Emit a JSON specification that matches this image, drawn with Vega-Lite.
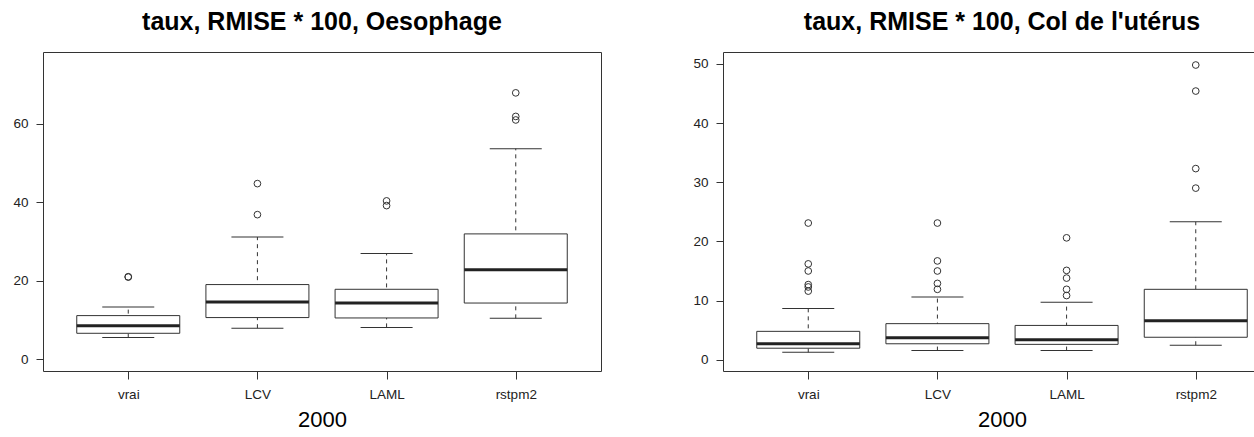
{
  "$schema": "https://vega.github.io/schema/vega-lite/v6.json",
  "padding": {"left": 12, "top": 9, "right": 0, "bottom": 0},
  "background": "white",
  "spacing": 122,
  "bounds": "flush",
  "datasets": {
    "boxes": [
      {"panel": "Oesophage", "method": "vrai", "lower": 5.5, "q1": 6.6, "median": 8.5, "q3": 11.1, "upper": 13.3},
      {"panel": "Oesophage", "method": "LCV", "lower": 7.9, "q1": 10.6, "median": 14.55, "q3": 19.0, "upper": 31.1},
      {"panel": "Oesophage", "method": "LAML", "lower": 8.1, "q1": 10.5, "median": 14.3, "q3": 17.8, "upper": 26.9},
      {"panel": "Oesophage", "method": "rstpm2", "lower": 10.4, "q1": 14.3, "median": 22.8, "q3": 31.9, "upper": 53.6},
      {"panel": "Col", "method": "vrai", "lower": 1.25, "q1": 1.95, "median": 2.7, "q3": 4.8, "upper": 8.65},
      {"panel": "Col", "method": "LCV", "lower": 1.55, "q1": 2.7, "median": 3.7, "q3": 6.1, "upper": 10.6},
      {"panel": "Col", "method": "LAML", "lower": 1.55, "q1": 2.6, "median": 3.4, "q3": 5.8, "upper": 9.7},
      {"panel": "Col", "method": "rstpm2", "lower": 2.45, "q1": 3.8, "median": 6.6, "q3": 11.9, "upper": 23.3}
    ],
    "outliers": [
      {"panel": "Oesophage", "method": "vrai", "value": 20.9},
      {"panel": "Oesophage", "method": "vrai", "value": 21.0},
      {"panel": "Oesophage", "method": "LCV", "value": 36.8},
      {"panel": "Oesophage", "method": "LCV", "value": 44.7},
      {"panel": "Oesophage", "method": "LAML", "value": 39.1},
      {"panel": "Oesophage", "method": "LAML", "value": 40.3},
      {"panel": "Oesophage", "method": "rstpm2", "value": 60.9},
      {"panel": "Oesophage", "method": "rstpm2", "value": 61.8},
      {"panel": "Oesophage", "method": "rstpm2", "value": 67.8},
      {"panel": "Col", "method": "vrai", "value": 11.6},
      {"panel": "Col", "method": "vrai", "value": 12.3},
      {"panel": "Col", "method": "vrai", "value": 12.7},
      {"panel": "Col", "method": "vrai", "value": 15.0},
      {"panel": "Col", "method": "vrai", "value": 16.2},
      {"panel": "Col", "method": "vrai", "value": 23.1},
      {"panel": "Col", "method": "LCV", "value": 11.9},
      {"panel": "Col", "method": "LCV", "value": 12.9},
      {"panel": "Col", "method": "LCV", "value": 15.0},
      {"panel": "Col", "method": "LCV", "value": 16.7},
      {"panel": "Col", "method": "LCV", "value": 23.1},
      {"panel": "Col", "method": "LAML", "value": 10.85},
      {"panel": "Col", "method": "LAML", "value": 11.9},
      {"panel": "Col", "method": "LAML", "value": 13.8},
      {"panel": "Col", "method": "LAML", "value": 15.1},
      {"panel": "Col", "method": "LAML", "value": 20.6},
      {"panel": "Col", "method": "rstpm2", "value": 29.0},
      {"panel": "Col", "method": "rstpm2", "value": 32.3},
      {"panel": "Col", "method": "rstpm2", "value": 45.4},
      {"panel": "Col", "method": "rstpm2", "value": 49.8}
    ]
  },
  "hconcat": [
    {
      "width": 558,
      "height": 319,
      "title": {"text": "taux, RMISE * 100, Oesophage"},
      "encoding": {
        "x": {"field": "method", "type": "nominal", "sort": ["vrai", "LCV", "LAML", "rstpm2"], "scale": {"type": "point", "padding": 0.66}, "axis": {"title": "2000", "labelAngle": 0}},
        "y": {"type": "quantitative", "scale": {"domain": [-3, 78.2], "nice": false, "zero": false}, "axis": {"title": null, "values": [0, 20, 40, 60], "grid": false}}
      },
      "layer": [
        {"data": {"name": "boxes"}, "transform": [{"filter": "datum.panel == 'Oesophage'"}], "mark": {"type": "rule", "strokeDash": [4, 4], "color": "#333", "strokeWidth": 1}, "encoding": {"y": {"field": "lower", "type": "quantitative"}, "y2": {"field": "upper"}}},
        {"data": {"name": "boxes"}, "transform": [{"filter": "datum.panel == 'Oesophage'"}], "mark": {"type": "bar", "width": 103, "fill": "white", "stroke": "#333", "strokeWidth": 1}, "encoding": {"y": {"field": "q1", "type": "quantitative"}, "y2": {"field": "q3"}}},
        {"data": {"name": "boxes"}, "transform": [{"filter": "datum.panel == 'Oesophage'"}], "mark": {"type": "tick", "size": 103, "thickness": 3, "color": "#222", "opacity": 1}, "encoding": {"y": {"field": "median", "type": "quantitative"}}},
        {"data": {"name": "boxes"}, "transform": [{"filter": "datum.panel == 'Oesophage'"}], "mark": {"type": "tick", "size": 52, "thickness": 1, "color": "#333", "opacity": 1}, "encoding": {"y": {"field": "lower", "type": "quantitative"}}},
        {"data": {"name": "boxes"}, "transform": [{"filter": "datum.panel == 'Oesophage'"}], "mark": {"type": "tick", "size": 52, "thickness": 1, "color": "#333", "opacity": 1}, "encoding": {"y": {"field": "upper", "type": "quantitative"}}},
        {"data": {"name": "outliers"}, "transform": [{"filter": "datum.panel == 'Oesophage'"}], "mark": {"type": "point", "shape": "circle", "filled": false, "size": 45, "stroke": "#333", "strokeWidth": 1, "opacity": 1}, "encoding": {"y": {"field": "value", "type": "quantitative"}}}
      ]
    },
    {
      "width": 558,
      "height": 319,
      "title": {"text": "taux, RMISE * 100, Col de l'utérus"},
      "encoding": {
        "x": {"field": "method", "type": "nominal", "sort": ["vrai", "LCV", "LAML", "rstpm2"], "scale": {"type": "point", "padding": 0.66}, "axis": {"title": "2000", "labelAngle": 0}},
        "y": {"type": "quantitative", "scale": {"domain": [-1.9, 52], "nice": false, "zero": false}, "axis": {"title": null, "values": [0, 10, 20, 30, 40, 50], "grid": false}}
      },
      "layer": [
        {"data": {"name": "boxes"}, "transform": [{"filter": "datum.panel == 'Col'"}], "mark": {"type": "rule", "strokeDash": [4, 4], "color": "#333", "strokeWidth": 1}, "encoding": {"y": {"field": "lower", "type": "quantitative"}, "y2": {"field": "upper"}}},
        {"data": {"name": "boxes"}, "transform": [{"filter": "datum.panel == 'Col'"}], "mark": {"type": "bar", "width": 103, "fill": "white", "stroke": "#333", "strokeWidth": 1}, "encoding": {"y": {"field": "q1", "type": "quantitative"}, "y2": {"field": "q3"}}},
        {"data": {"name": "boxes"}, "transform": [{"filter": "datum.panel == 'Col'"}], "mark": {"type": "tick", "size": 103, "thickness": 3, "color": "#222", "opacity": 1}, "encoding": {"y": {"field": "median", "type": "quantitative"}}},
        {"data": {"name": "boxes"}, "transform": [{"filter": "datum.panel == 'Col'"}], "mark": {"type": "tick", "size": 52, "thickness": 1, "color": "#333", "opacity": 1}, "encoding": {"y": {"field": "lower", "type": "quantitative"}}},
        {"data": {"name": "boxes"}, "transform": [{"filter": "datum.panel == 'Col'"}], "mark": {"type": "tick", "size": 52, "thickness": 1, "color": "#333", "opacity": 1}, "encoding": {"y": {"field": "upper", "type": "quantitative"}}},
        {"data": {"name": "outliers"}, "transform": [{"filter": "datum.panel == 'Col'"}], "mark": {"type": "point", "shape": "circle", "filled": false, "size": 45, "stroke": "#333", "strokeWidth": 1, "opacity": 1}, "encoding": {"y": {"field": "value", "type": "quantitative"}}}
      ]
    }
  ],
  "config": {
    "font": "Liberation Sans",
    "view": {"stroke": "#333", "strokeWidth": 1},
    "title": {"fontSize": 25, "fontWeight": "bold", "color": "#000", "font": "Liberation Sans", "anchor": "middle", "offset": 17, "baseline": "alphabetic"},
    "axis": {"domain": false, "tickColor": "#333", "tickSize": 8, "labelFontSize": 13.5, "labelColor": "#222", "labelPadding": 8, "labelFont": "Liberation Sans"},
    "axisX": {"titleFontSize": 22, "titleFontWeight": "normal", "titleColor": "#000", "titlePadding": 9, "titleFont": "Liberation Sans"},
    "axisY": {"tickSize": 7, "labelPadding": 8}
  }
}
